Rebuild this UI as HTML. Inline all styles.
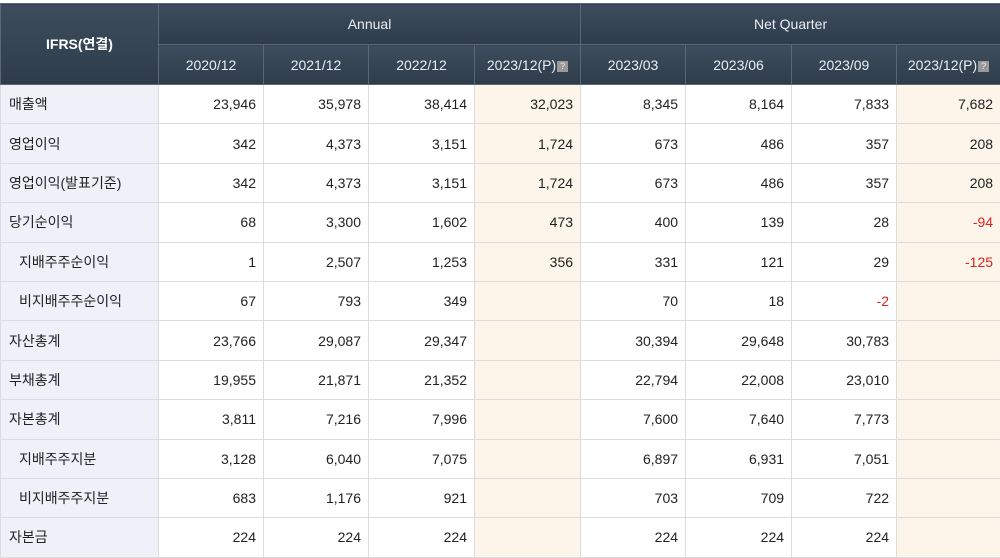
<!DOCTYPE html>
<html><head><meta charset="utf-8">
<style>
html,body{margin:0;padding:0;background:#fff;width:1000px;height:555px;overflow:hidden}
body{font-family:"Liberation Sans","Noto Sans CJK KR",sans-serif;font-size:14px;color:#222}
table{border-collapse:collapse;table-layout:fixed;position:absolute;left:0;top:3px;width:1000px}
th{background:linear-gradient(#3d4d5d,#2e3c4a);color:#e8eef4;font-weight:normal;font-size:14px;border:1px solid #5a6877;padding:0}
th.lab{font-weight:bold;color:#fff}
td{border:1px solid #dcdcdc;text-align:right;padding:0 7px 0 0;height:38.4px}
td.l{background:#eef1f7;text-align:left;padding-left:8px}
td.l.s{padding-left:18px}
td.p{background:#fdf5e9}
.neg{color:#e0201e}
.q{display:inline-block;width:11px;height:11px;background:#999;color:#eee;font-size:9px;line-height:11px;text-align:center;vertical-align:1px;margin-left:1px}
</style></head><body>
<table>
<colgroup><col style="width:158px"><col style="width:105px"><col style="width:105px"><col style="width:106px"><col style="width:106px"><col style="width:105px"><col style="width:106px"><col style="width:105px"><col style="width:104px"></colgroup>
<tr style="height:41px">
<th class="lab" rowspan="2">IFRS(연결)</th>
<th colspan="4">Annual</th>
<th colspan="4">Net Quarter</th></tr>
<tr style="height:40px">
<th>2020/12</th>
<th>2021/12</th>
<th>2022/12</th>
<th>2023/12(P)<span class="q">?</span></th>
<th>2023/03</th>
<th>2023/06</th>
<th>2023/09</th>
<th>2023/12(P)<span class="q">?</span></th></tr>
<tbody id="tb"></tbody>
</table>
<script>
const labels=["매출액","영업이익","영업이익(발표기준)","당기순이익","지배주주순이익","비지배주주순이익","자산총계","부채총계","자본총계","지배주주지분","비지배주주지분","자본금"];
const sub=[0,0,0,0,1,1,0,0,0,1,1,0];
const rows=[
["23,946","35,978","38,414","32,023","8,345","8,164","7,833","7,682"],
["342","4,373","3,151","1,724","673","486","357","208"],
["342","4,373","3,151","1,724","673","486","357","208"],
["68","3,300","1,602","473","400","139","28","-94"],
["1","2,507","1,253","356","331","121","29","-125"],
["67","793","349","","70","18","-2",""],
["23,766","29,087","29,347","","30,394","29,648","30,783",""],
["19,955","21,871","21,352","","22,794","22,008","23,010",""],
["3,811","7,216","7,996","","7,600","7,640","7,773",""],
["3,128","6,040","7,075","","6,897","6,931","7,051",""],
["683","1,176","921","","703","709","722",""],
["224","224","224","","224","224","224",""]];
const tb=document.getElementById('tb');
rows.forEach((r,i)=>{
  const tr=document.createElement('tr');
  
  
  const th=document.createElement('td');
  th.className='l'+(sub[i]?' s':'');
  th.textContent=labels[i];
  
  
  tr.appendChild(th);
  r.forEach((v,j)=>{
    const td=document.createElement('td');
    if(j===3||j===7) td.className='p';
    if(v.startsWith('-')) td.classList.add('neg');
    td.textContent=v;
    
    
    tr.appendChild(td);
  });
  tb.appendChild(tr);
});
</script>
</body></html>
